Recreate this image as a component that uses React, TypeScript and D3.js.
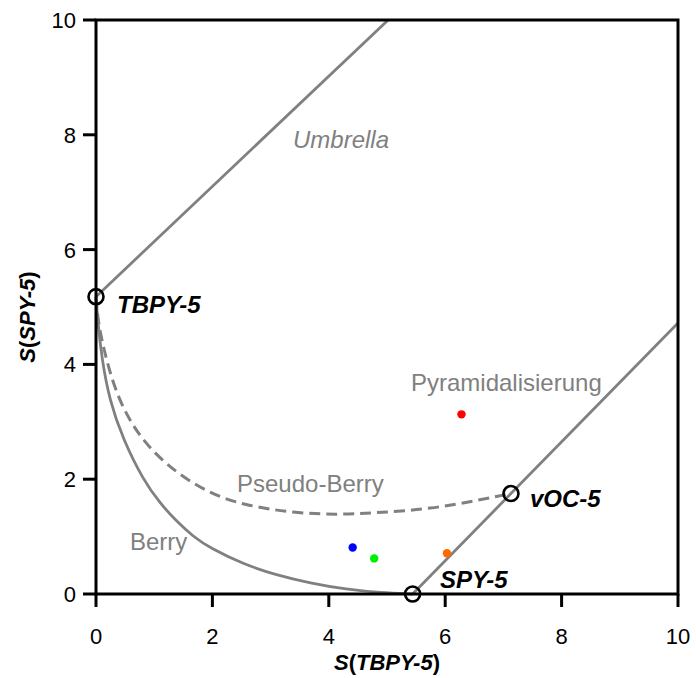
import React from "react";
import * as d3 from "d3";

// Reference structures (x = S(TBPY-5), y = S(SPY-5))
const refNames = ["TBPY-5", "SPY-5", "vOC-5"];
const refX = [0, 5.44, 7.13];
const refY = [5.18, 0, 1.75];

// Berry pathway (solid)
const berryX = [0, 0.03, 0.1, 0.23, 0.47, 0.81, 1.1, 1.39, 1.67, 1.96, 2.53, 3.1, 3.68, 4.3, 4.9, 5.44];
const berryY = [5.18, 4.75, 4.1, 3.38, 2.68, 1.99, 1.58, 1.26, 1.0, 0.8, 0.52, 0.33, 0.19, 0.08, 0.02, 0];

// Pseudo-Berry pathway (dashed)
const pseudoX = [0, 0.03, 0.12, 0.37, 0.81, 1.39, 1.96, 2.53, 3.39, 4.2, 4.88, 5.74, 6.6, 7.13];
const pseudoY = [5.18, 4.8, 4.3, 3.38, 2.63, 2.1, 1.75, 1.55, 1.41, 1.38, 1.42, 1.48, 1.64, 1.75];

// Straight boundary lines
const umbrellaLineX = [0, 5.02];
const umbrellaLineY = [5.18, 10];
const pyrLineX = [5.44, 10];
const pyrLineY = [0, 4.72];

// Measured compounds
const dotX = [4.41, 4.78, 6.03, 6.28];
const dotY = [0.81, 0.62, 0.71, 3.13];
const dotColors = ["#0000ff", "#00ee00", "#ff6a00", "#ff0000"];

const xTicks = [0, 2, 4, 6, 8, 10];
const yTicks = [0, 2, 4, 6, 8, 10];

const W = 696;
const H = 678;
const FONT = "Liberation Sans, Arial, Helvetica, sans-serif";

export default function App() {
  const x = d3.scaleLinear().domain([0, 10]).range([96, 678]);
  const y = d3.scaleLinear().domain([0, 10]).range([594, 20]);

  const curve = d3
    .line<[number, number]>()
    .x((d) => x(d[0]))
    .y((d) => y(d[1]))
    .curve(d3.curveBasis);
  const straight = d3
    .line<[number, number]>()
    .x((d) => x(d[0]))
    .y((d) => y(d[1]));

  const zip = (a: number[], b: number[]) => a.map((v, i) => [v, b[i]] as [number, number]);

  const gray = "#808080";

  return (
    <svg
      width={W}
      height={H}
      style={{ position: "absolute", left: 0, top: 0 }}
      fontFamily={FONT}
    >
      <rect x={0} y={0} width={W} height={H} fill="#fff" />
      {/* boundary lines */}
      <path d={straight(zip(umbrellaLineX, umbrellaLineY)) || ""} stroke={gray} strokeWidth={2.8} fill="none" />
      <path d={straight(zip(pyrLineX, pyrLineY)) || ""} stroke={gray} strokeWidth={2.8} fill="none" />
      <path d={curve(zip(berryX, berryY)) || ""} stroke={gray} strokeWidth={2.8} fill="none" />
      <path
        d={curve(zip(pseudoX, pseudoY)) || ""}
        stroke={gray}
        strokeWidth={3}
        strokeDasharray="11,6"
        fill="none"
      />

      {/* region labels */}
      <text x={293} y={148} fontSize={24} fontStyle="italic" fill={gray}>Umbrella</text>
      <text x={411} y={391} fontSize={24} fill={gray}>Pyramidalisierung</text>
      <text x={237} y={492} fontSize={24} fill={gray}>Pseudo-Berry</text>
      <text x={130} y={550} fontSize={24} fill={gray}>Berry</text>

      {/* dots */}
      {dotX.map((dx, i) => (
        <circle key={i} cx={x(dx)} cy={y(dotY[i])} r={4.2} fill={dotColors[i]} />
      ))}

      {/* frame / axes */}
      <rect x={x(0)} y={y(10)} width={x(10) - x(0)} height={y(0) - y(10)} fill="none" stroke="#000" strokeWidth={3} />
      {xTicks.map((t) => (
        <g key={"x" + t}>
          <line x1={x(t)} x2={x(t)} y1={y(0)} y2={y(0) + 13} stroke="#000" strokeWidth={3} />
          <text x={x(t)} y={644} fontSize={22} textAnchor="middle" fill="#000">{t}</text>
        </g>
      ))}
      {yTicks.map((t) => (
        <g key={"y" + t}>
          <line x1={x(0) - 13} x2={x(0)} y1={y(t)} y2={y(t)} stroke="#000" strokeWidth={3} />
          <text x={76} y={y(t) + 8} fontSize={22} textAnchor="end" fill="#000">{t}</text>
        </g>
      ))}

      {/* reference markers */}
      {refX.map((rx, i) => (
        <circle key={refNames[i]} cx={x(rx)} cy={y(refY[i])} r={7.5} fill="none" stroke="#000" strokeWidth={2.6} />
      ))}
      <text x={117} y={313} fontSize={24} fontWeight="bold" fontStyle="italic">{refNames[0]}</text>
      <text x={440} y={588} fontSize={24} fontWeight="bold" fontStyle="italic">{refNames[1]}</text>
      <text x={530} y={507} fontSize={24} fontWeight="bold" fontStyle="italic">{refNames[2]}</text>

      {/* axis titles */}
      <text x={387} y={670} fontSize={22} fontWeight="bold" textAnchor="middle">
        <tspan fontStyle="italic">S</tspan>(<tspan fontStyle="italic">TBPY-5</tspan>)
      </text>
      <text
        transform={`translate(35,${(y(0) + y(10)) / 2 + 10}) rotate(-90)`}
        fontSize={22}
        fontWeight="bold"
        textAnchor="middle"
      >
        <tspan fontStyle="italic">S</tspan>(<tspan fontStyle="italic">SPY-5</tspan>)
      </text>
    </svg>
  );
}
